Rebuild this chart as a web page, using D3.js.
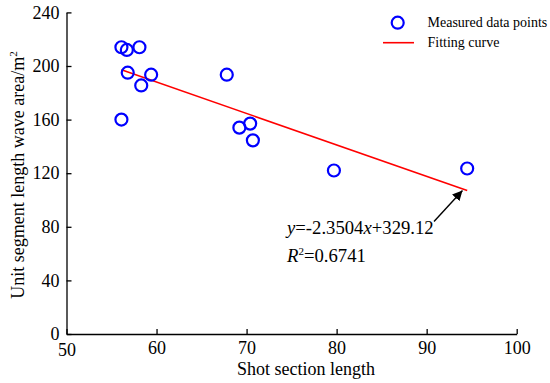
<!DOCTYPE html>
<html>
<head>
<meta charset="utf-8">
<script src="https://cdn.jsdelivr.net/npm/d3@7"></script>
<style>
  body { margin: 0; background: #fff; }
</style>
</head>
<body>
<svg id="chart" width="550" height="383"></svg>
<script>
// measured points
const shotLength = [56.1, 56.7, 58.1, 56.8, 59.4, 58.3, 56.1, 67.8, 69.2, 70.4, 70.7, 79.7, 94.5];
const waveArea   = [214, 212, 214, 195, 193.5, 185.5, 160, 193.5, 154, 157, 144.5, 122, 123.5];

// linear fit
const slope = -2.3504;
const intercept = 329.12;

const xTicks = [50, 60, 70, 80, 90, 100];
const yTicks = [0, 40, 80, 120, 160, 200, 240];

const serif = "'Liberation Serif', 'DejaVu Serif', serif";

const svg = d3.select("#chart");

const x = d3.scaleLinear().domain([50, 100]).range([66.5, 516.7]);
const y = d3.scaleLinear().domain([0, 240]).range([334, 12.4]);

// axes
const xAxis = svg.append("g")
    .attr("transform", `translate(0,${y(0)})`)
    .call(d3.axisBottom(x).tickValues(xTicks).tickSize(-5).tickSizeOuter(0).tickPadding(7));

const yAxis = svg.append("g")
    .attr("transform", `translate(${x(50)},0)`)
    .call(d3.axisLeft(y).tickValues(yTicks).tickSize(-5).tickSizeOuter(0).tickPadding(7));

[xAxis, yAxis].forEach(g => {
    g.attr("font-family", null).attr("font-size", null);
    g.selectAll("path, line").attr("stroke", "#000").attr("stroke-width", 1.3);
    g.selectAll("text").style("font-size", "18px");
});
xAxis.select(".tick text").attr("dy", "0.85em");

// axis titles
svg.append("text")
    .attr("x", 306).attr("y", 375)
    .attr("text-anchor", "middle")
    .style("font-size", "18px")
    .text("Shot section length");

const yTitle = svg.append("text")
    .attr("transform", "translate(24,175) rotate(-90)")
    .attr("text-anchor", "middle")
    .style("font-size", "18px");
yTitle.append("tspan").text("Unit segment length wave area/m");
yTitle.append("tspan").attr("dy", -7).style("font-size", "11px").text("2");

// fitting line
const xMin = d3.min(shotLength), xMax = d3.max(shotLength);
svg.append("line")
    .attr("x1", x(xMin)).attr("y1", y(slope * xMin + intercept))
    .attr("x2", x(xMax)).attr("y2", y(slope * xMax + intercept))
    .attr("stroke", "#ff0000").attr("stroke-width", 1.6);

// points
svg.append("g")
    .selectAll("circle")
    .data(shotLength.map((d, i) => [d, waveArea[i]]))
    .enter()
    .append("circle")
    .attr("cx", d => x(d[0]))
    .attr("cy", d => y(d[1]))
    .attr("r", 6)
    .attr("fill", "none")
    .attr("stroke", "#0000ff")
    .attr("stroke-width", 2.2);

// arrow pointing at line end
svg.append("defs").append("marker")
    .attr("id", "arrow")
    .attr("viewBox", "0 0 10 10")
    .attr("refX", 10).attr("refY", 5)
    .attr("markerWidth", 10).attr("markerHeight", 10)
    .attr("markerUnits", "userSpaceOnUse")
    .attr("orient", "auto")
    .append("path")
    .attr("d", "M0,0 L10,5 L0,10 z")
    .attr("fill", "#000");

svg.append("line")
    .attr("x1", 434).attr("y1", 221.5)
    .attr("x2", 462.5).attr("y2", 190.5)
    .attr("stroke", "#000").attr("stroke-width", 1.4)
    .attr("marker-end", "url(#arrow)");

// equation
const eq = svg.append("text").attr("x", 287).attr("y", 234).style("font-size", "18.7px");
eq.append("tspan").style("font-style", "italic").text("y");
eq.append("tspan").text("=-2.3504");
eq.append("tspan").style("font-style", "italic").text("x");
eq.append("tspan").text("+329.12");

const r2 = svg.append("text").attr("x", 287).attr("y", 262).style("font-size", "18.7px");
r2.append("tspan").style("font-style", "italic").text("R");
r2.append("tspan").attr("dy", -7).style("font-size", "11px").text("2");
r2.append("tspan").attr("dy", 7).text("=0.6741");

// legend
const legend = svg.append("g");
legend.append("circle")
    .attr("cx", 397.7).attr("cy", 22.7).attr("r", 6)
    .attr("fill", "none").attr("stroke", "#0000ff").attr("stroke-width", 2.2);
legend.append("text").attr("x", 427.5).attr("y", 26.5).style("font-size", "14px").text("Measured data points");
legend.append("line")
    .attr("x1", 383).attr("x2", 414).attr("y1", 42.7).attr("y2", 42.7)
    .attr("stroke", "#ff0000").attr("stroke-width", 1.6);
legend.append("text").attr("x", 427.5).attr("y", 47).style("font-size", "14px").text("Fitting curve");

svg.selectAll("text").style("font-family", serif).attr("fill", "#000");
</script>
</body>
</html>
